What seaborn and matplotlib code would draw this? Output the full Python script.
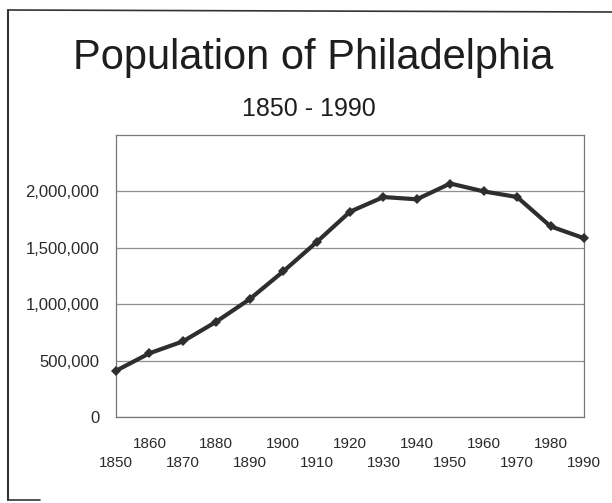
import numpy as np
import pandas as pd
import matplotlib
matplotlib.use("Agg")
import matplotlib.pyplot as plt
from matplotlib.lines import Line2D
from matplotlib.ticker import FuncFormatter
import seaborn as sns

# Census years and population
years = [1850, 1860, 1870, 1880, 1890, 1900, 1910, 1920,
         1930, 1940, 1950, 1960, 1970, 1980, 1990]
population = [410000, 565000, 670000, 845000, 1045000, 1290000, 1550000, 1820000,
              1950000, 1930000, 2070000, 2000000, 1950000, 1690000, 1585000]
long_ticks = [1850, 1870, 1890, 1910, 1930, 1950, 1970, 1990]
short_ticks = [1860, 1880, 1900, 1920, 1940, 1960, 1980]
y_ticks = [0, 500000, 1000000, 1500000, 2000000]

data = pd.DataFrame({"year": years, "population": population})

sns.set_style("white")
plt.rcParams['font.family'] = ['Liberation Sans', 'DejaVu Sans']

fig = plt.figure(figsize=(6.12, 5.03), dpi=100)
ax = fig.add_axes([116/612, 1 - 417/503, (584 - 116)/612, (417 - 135)/503])

sns.lineplot(data=data, x="year", y="population", ax=ax, color="#2e2e2e",
             linewidth=3, marker="D", markersize=5.5, markeredgewidth=0,
             clip_on=False, zorder=5)

ax.set_xlim(1850, 1990)
ax.set_ylim(0, 2500000)
ax.set_xlabel("")
ax.set_ylabel("")

# y axis with comma labels and gray gridlines
ax.set_yticks(y_ticks)
ax.yaxis.set_major_formatter(FuncFormatter(lambda v, p: "{:,.0f}".format(v)))
ax.grid(axis="y", color="#8f8f8f", linewidth=0.9)
ax.tick_params(axis="y", length=8, width=0.9, color="#666666", pad=4,
               labelsize=12, labelcolor="#2a2a2a")

# x axis: staggered labels with long and short ticks
ax.set_xticks(long_ticks)
ax.set_xticks(short_ticks, minor=True)
ax.set_xticklabels([str(y) for y in long_ticks])
ax.set_xticklabels([str(y) for y in short_ticks], minor=True)
ax.tick_params(axis="x", which="major", length=21, width=0.9, color="#666666",
               pad=7, labelsize=11, labelcolor="#2a2a2a")
ax.tick_params(axis="x", which="minor", length=6.5, width=0.9, color="#666666",
               pad=8, labelsize=11, labelcolor="#2a2a2a")

for side in ["left", "bottom", "right", "top"]:
    ax.spines[side].set_color("#777777")
    ax.spines[side].set_linewidth(0.9)

# Titles
fig.text(313/612, 1 - 58/503, "Population of Philadelphia", ha="center", va="center",
         fontsize=30, color="#1e1e1e")
fig.text(309/612, 1 - 109/503, "1850 - 1990", ha="center", va="center",
         fontsize=18, color="#1e1e1e")

# Frame around the chart (partly cut off in the scan)
fx = 8/612
fig.add_artist(Line2D([fx, fx], [1 - 10/503, 1 - 500/503], color="#333333", linewidth=1.5))
fig.add_artist(Line2D([fx, 1.0], [1 - 10/503, 1 - 12/503], color="#333333", linewidth=1.2))
fig.add_artist(Line2D([fx, 40/612], [1 - 500/503, 1 - 500/503], color="#333333", linewidth=1.2))

fig.savefig("out.png", dpi=100)
